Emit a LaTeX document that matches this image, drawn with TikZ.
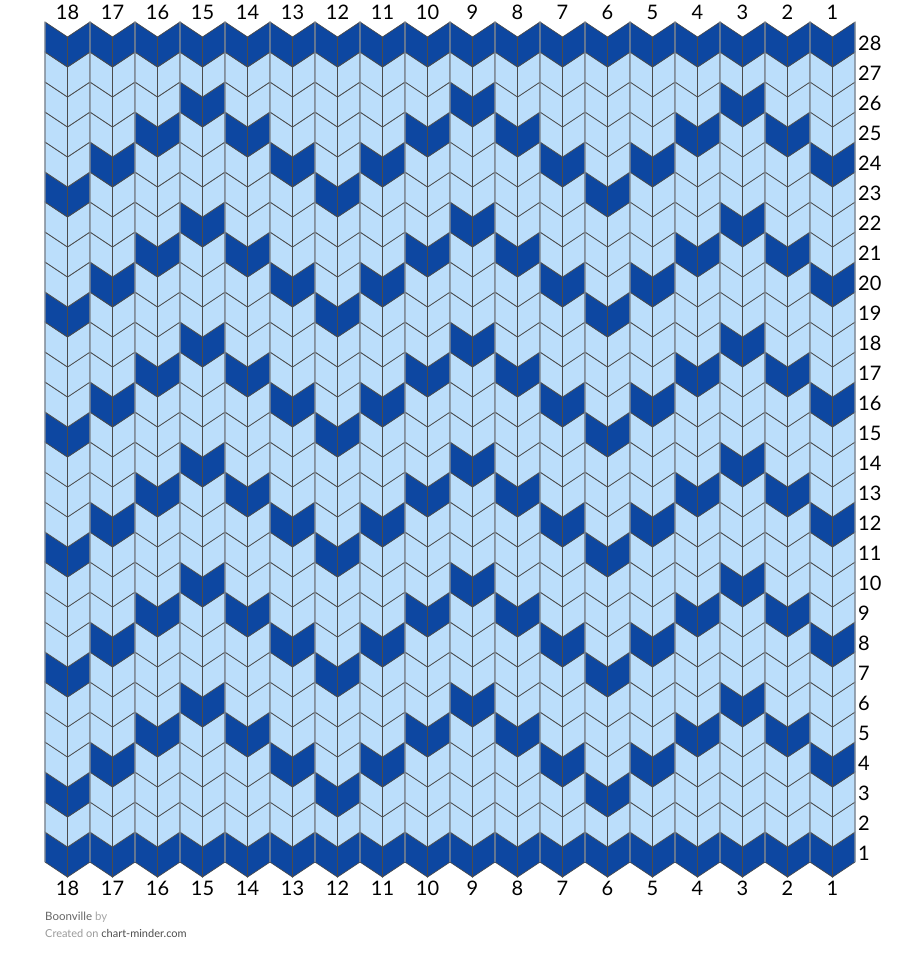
\documentclass[tikz,border=0pt]{standalone}
\usepackage{fontspec}
\setmainfont{Lato}
\usepackage{xcolor}

\definecolor{stitchdark}{HTML}{0D47A1}
\definecolor{stitchlight}{HTML}{BBDEFB}
\definecolor{edgegray}{HTML}{8A96A4}

\tikzset{
  stitch/.style={draw=black!70, line width=0.7pt, line join=miter},
  numlabel/.style={font=\fontsize{20}{20}\selectfont, inner sep=0pt},
  foot/.style={font=\fontsize{11.5}{11.5}\selectfont, inner sep=0pt, anchor=base west}
}

\begin{document}
\begin{tikzpicture}[x=1pt, y=-1pt]
			\useasboundingbox (0,0) rectangle (900,963);
			
			% Stitches, row 1 at the bottom, column 18 at the left
			\foreach \r in {1,...,28} {
				\foreach \i in {0,...,17} {
					\pgfmathtruncatemacro\c{18-\i}
					\pgfmathsetmacro\t{862-30*\r}
					\pgfmathsetmacro\xl{45+45*\i}
					\pgfmathsetmacro\xm{67.5+45*\i}
					\pgfmathsetmacro\xr{90+45*\i}
					\pgfmathtruncatemacro\isdark{(\r==1)||(\r==28)||((\r>2)&&(\r<27)&&(abs(mod(\c,6)-3)==mod(102-\r,4)))}
					\ifnum\isdark=1 \def\fillc{stitchdark}\else\def\fillc{stitchlight}\fi
					\filldraw[stitch, fill=\fillc]
						(\xl,\t) -- (\xm,\t+15) -- (\xm,\t+45) -- (\xl,\t+30) -- cycle;
					\filldraw[stitch, fill=\fillc]
						(\xm,\t+15) -- (\xr,\t) -- (\xr,\t+30) -- (\xm,\t+45) -- cycle;
				}
			}
			
			% Column edges
			\foreach \i in {0,...,18} {
				\draw[edgegray, line width=1.2pt, opacity=0.6] (45+45*\i,22) -- (45+45*\i,862);
			}
			
			% Column numbers, top and bottom
			\foreach \i in {0,...,17} {
				\pgfmathtruncatemacro\c{18-\i}
				\node[numlabel] (top\c) at (67.5+45*\i,12) {\c};
				\node[numlabel] (bot\c) at (67.5+45*\i,888) {\c};
			}
			
			% Row numbers
			\foreach \r in {1,...,28} {
				\node[numlabel, anchor=west] (row\r) at (858,883-30*\r) {\r};
			}
			
			% Footer
			\node[foot] (title) at (45,920) {\textcolor{black!60}{Boonville} \textcolor{black!35}{by}};
			\node[foot, font=\fontsize{11}{11}\selectfont] (site) at (45,937)
				{\textcolor{black!40}{Created on} \textcolor{black!70}{chart-minder.com}};
		\end{tikzpicture}
\end{document}
